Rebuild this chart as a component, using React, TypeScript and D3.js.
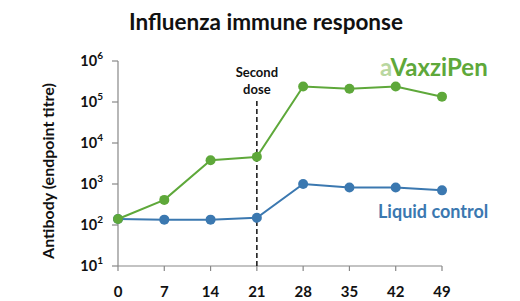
import React from "react";
import * as d3 from "d3";

const days = [0, 7, 14, 21, 28, 35, 42, 49];
const vaxzipen = [140, 410, 3800, 4600, 240000, 210000, 240000, 135000];
const liquid = [140, 135, 135, 150, 1000, 820, 820, 700];
const yExps = [1, 2, 3, 4, 5, 6];

const GREEN = "#5ea83a";
const BLUE = "#3b78b0";

export default function App() {
  const x = d3.scaleLinear().domain([0, 49]).range([118, 442]);
  const y = d3.scaleLog().domain([10, 1e6]).range([266, 61]);
  const line = d3
    .line<number>()
    .x((_, i) => x(days[i]))
    .y((d) => y(d));
  const font = "Lato, 'Open Sans', sans-serif";
  return (
    <svg
      width={520}
      height={301}
      style={{ position: "absolute", left: 0, top: 0, background: "#fff" }}
      fontFamily={font}
    >
      <text x={266} y={30} textAnchor="middle" fontSize={22.5} fontWeight="bold" fill="#111">
        Influenza immune response
      </text>
      <text
        transform={`translate(54,171) rotate(-90)`}
        textAnchor="middle"
        fontSize={16}
        fontWeight="bold"
        fill="#111"
      >
        Antibody (endpoint titre)
      </text>
      {/* axes */}
      <line x1={118} x2={118} y1={61} y2={266} stroke="#888" strokeWidth={1.2} />
      <line x1={118} x2={442} y1={266} y2={266} stroke="#888" strokeWidth={1.2} />
      {yExps.map((e) => (
        <g key={e}>
          <line x1={112} x2={118} y1={y(10 ** e)} y2={y(10 ** e)} stroke="#888" strokeWidth={1.2} />
          <text x={103} y={y(10 ** e) + 5} textAnchor="end" fontSize={14.5} fontWeight="bold" fill="#111">
            10
            <tspan dy={-7} fontSize={10}>
              {e}
            </tspan>
          </text>
        </g>
      ))}
      {days.map((d) => (
        <g key={d}>
          <line x1={x(d)} x2={x(d)} y1={266} y2={271} stroke="#888" strokeWidth={1.2} />
          <text x={x(d)} y={297} textAnchor="middle" fontSize={15} fontWeight="bold" fill="#111">
            {d}
          </text>
        </g>
      ))}
      {/* second dose */}
      <line
        x1={x(21)}
        x2={x(21)}
        y1={101}
        y2={266}
        stroke="#111"
        strokeWidth={1.5}
        strokeDasharray="5,3"
      />
      <text x={x(21)} y={77} textAnchor="middle" fontSize={13} fontWeight="bold" fill="#111">
        Second
      </text>
      <text x={x(21)} y={94} textAnchor="middle" fontSize={13} fontWeight="bold" fill="#111">
        dose
      </text>
      {/* series */}
      <path d={line(liquid) || ""} fill="none" stroke={BLUE} strokeWidth={2} />
      {liquid.map((v, i) => (
        <circle key={"b" + i} cx={x(days[i])} cy={y(v)} r={5} fill={BLUE} />
      ))}
      <path d={line(vaxzipen) || ""} fill="none" stroke={GREEN} strokeWidth={2} />
      {vaxzipen.map((v, i) => (
        <circle key={"g" + i} cx={x(days[i])} cy={y(v)} r={5} fill={GREEN} />
      ))}
      {/* labels */}
      <text x={380} y={76} fontSize={24} fontWeight="bold" fill={GREEN}>
        <tspan fill="#b9d7a0">a</tspan>VaxziPen
      </text>
      <text x={378} y={218} fontSize={18} fontWeight="bold" fill={BLUE}>
        Liquid control
      </text>
    </svg>
  );
}
